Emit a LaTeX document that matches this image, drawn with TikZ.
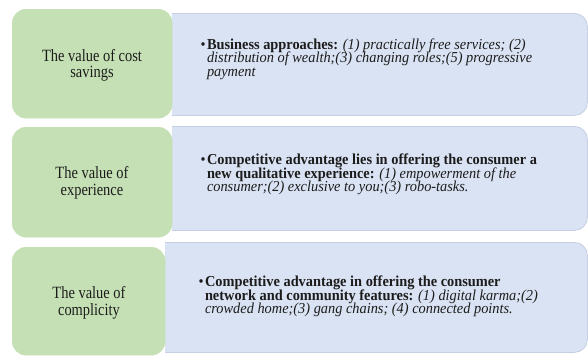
\documentclass[tikz,border=0pt]{standalone}
\usepackage{fontspec}
\setmainfont{Liberation Serif}
\newfontfamily\labelfont[FakeStretch=0.84]{Liberation Serif}
\newfontfamily\notefont[FakeStretch=0.945]{Liberation Serif}
\definecolor{valuegreen}{HTML}{C5E0B4}
\definecolor{panelblue}{HTML}{DAE3F3}
\definecolor{panelline}{HTML}{C6CFE2}
\definecolor{ink}{HTML}{1C1C1C}
% three tightly set lines, the first one carrying a hanging bullet
\newcommand{\notelines}[3]{\vtop{\baselineskip=13.6pt\lineskiplimit=-100pt
  \hbox{\llap{\textbullet\kern1.3pt}#1}\hbox{#2}\hbox{#3}}}
\begin{document}
\begin{tikzpicture}[x=1pt,y=-1pt,
  valuebox/.style={fill=valuegreen, draw=valuegreen, rounded corners=14pt,
    anchor=north west, inner sep=0pt},
  panel/.style={fill=panelblue, draw=panelline, line width=0.8pt,
    rounded corners=13pt, anchor=north west, inner sep=0pt},
  valuetext/.style={font=\labelfont\fontsize{17.2}{17}\selectfont,
    text=ink, anchor=base, inner sep=0pt},
  notetext/.style={font=\notefont\fontsize{15.2}{13.6}\selectfont,
    text=ink, anchor=base west, inner sep=0pt}]
\useasboundingbox (0,0) rectangle (588,356);

% blue panels, squared off on the left by clipping
\begin{scope}
  \clip (172,0) rectangle (588,125);
  \node[panel, minimum width=435pt, minimum height=102pt] (p1) at (152,13) {};
\end{scope}
\begin{scope}
  \clip (172,120) rectangle (588,240);
  \node[panel, minimum width=435pt, minimum height=104pt] (p2) at (152,126) {};
\end{scope}
\begin{scope}
  \clip (165,238) rectangle (588,356);
  \node[panel, minimum width=442pt, minimum height=110pt] (p3) at (145,242) {};
\end{scope}

% green value boxes
\node[valuebox, minimum width=160pt, minimum height=109pt] (v1) at (12,9) {};
\node[valuebox, minimum width=160pt, minimum height=110pt] (v2) at (12,127) {};
\node[valuebox, minimum width=153pt, minimum height=108pt] (v3) at (12,247) {};

% value labels
\node[valuetext] (v1a) at (92,61) {The value of cost};
\node[valuetext] (v1b) at (92,77.7) {savings};
\node[valuetext] (v2a) at (92,178) {The value of};
\node[valuetext] (v2b) at (92,195) {experience};
\node[valuetext] (v3a) at (89,298) {The value of};
\node[valuetext] (v3b) at (89,315) {complicity};

% panel texts
\node[notetext] (n1) at (206.8,49) {\notelines
  {\textbf{Business approaches:} \textit{(1) practically free services; (2)}}
  {\itshape distribution of wealth;(3) changing roles;(5) progressive}
  {\itshape payment}};

\node[notetext] (n2) at (206.8,164.5) {\notelines
  {\textbf{Competitive advantage lies in offering the consumer a}}
  {\textbf{new qualitative experience:} \textit{(1) empowerment of the}}
  {\itshape consumer;(2) exclusive to you;(3) robo-tasks.}};

\node[notetext] (n3) at (204.8,286.5) {\notelines
  {\textbf{Competitive advantage in offering the consumer}}
  {\textbf{network and community features:} \textit{(1) digital karma;(2)}}
  {\itshape crowded home;(3) gang chains; (4) connected points.}};
\end{tikzpicture}
\end{document}
